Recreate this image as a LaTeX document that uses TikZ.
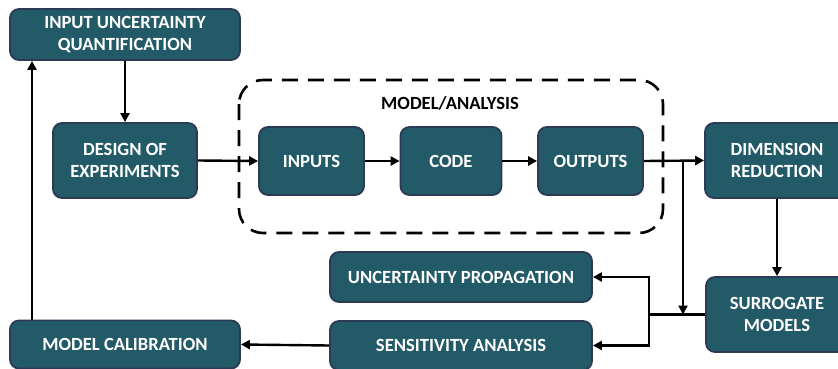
\documentclass[tikz,border=0pt]{standalone}
\usepackage{fontspec}
\setmainfont{Carlito}
\usetikzlibrary{arrows.meta}
\definecolor{boxfill}{HTML}{235A67}
\definecolor{boxline}{HTML}{2C3A56}
\tikzset{
  blk/.style={draw=boxline, line width=1.8pt, fill=boxfill, rounded corners=9pt,
    text=white, font=\fontsize{18.6}{22}\selectfont\bfseries, align=center,
    inner sep=0pt, anchor=center},
  arr/.style={line width=2.4pt, -{Triangle[length=9pt,width=9pt]}},
  ln/.style={line width=2.4pt},
}
\begin{document}
\begin{tikzpicture}[x=1pt,y=-1pt]
\useasboundingbox (0,0) rectangle (838,369);
\clip (0,0) rectangle (838,369);
\fill[white] (0,0) rectangle (838,369);
% dashed frame
\draw[line width=2.6pt, dash pattern=on 16pt off 10pt, rounded corners=24pt] (239,80) rectangle (663,233);
\node[font=\fontsize{18.6}{22}\selectfont\bfseries] (lab) at (450,103) {MODEL/ANALYSIS};
% nodes
\node[blk, minimum width=230pt, minimum height=51pt] (iuq) at (125,34.5) {INPUT UNCERTAINTY\\QUANTIFICATION};
\node[blk, minimum width=144pt, minimum height=75pt] (doe) at (125,160.5) {DESIGN OF\\EXPERIMENTS};
\node[blk, minimum width=105pt, minimum height=68pt] (inp) at (311.5,161) {INPUTS};
\node[blk, minimum width=101pt, minimum height=68pt] (code) at (451,161) {CODE};
\node[blk, minimum width=105pt, minimum height=68pt] (out) at (590.5,161) {OUTPUTS};
\node[blk, minimum width=144pt, minimum height=75pt] (dim) at (777,160.5) {DIMENSION\\REDUCTION};
\node[blk, minimum width=142pt, minimum height=75pt] (sur) at (777,314.5) {SURROGATE\\MODELS};
\node[blk, minimum width=262pt, minimum height=50pt] (up) at (461,277) {UNCERTAINTY PROPAGATION};
\node[blk, minimum width=262pt, minimum height=49pt] (sa) at (461,345.5) {SENSITIVITY ANALYSIS};
\node[blk, minimum width=230pt, minimum height=48pt] (mc) at (125,344.5) {MODEL CALIBRATION};
% coordinates
\coordinate (lx) at (32,0);
\coordinate (jx) at (683,161);
\coordinate (j2) at (649,314.5);
% connectors
\draw[arr] (iuq.south) -- (doe.north);
\draw[arr] (mc.north -| lx) -- (iuq.south -| lx);
\draw[arr] (doe.east) -- (inp.west);
\draw[arr] (inp.east) -- (code.west);
\draw[arr] (code.east) -- (out.west);
\draw[arr] (out.east) -- (dim.west);
\draw[arr] (jx) -- (jx |- sur.west);
\draw[arr] (dim.south) -- (sur.north);
\draw[ln] (sur.west) -- (j2);
\draw[arr] (j2) |- (up.east);
\draw[arr] (j2) |- (sa.east);
\draw[arr] (sa.west) -- (mc.east);
\end{tikzpicture}
\end{document}
